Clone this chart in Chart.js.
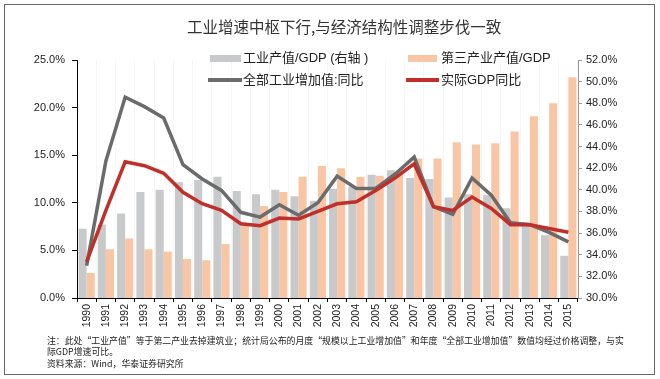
<!DOCTYPE html>
<html>
<head>
<meta charset="utf-8">
<script src="https://cdn.jsdelivr.net/npm/chart.js@4"></script>
<style>
  html, body { margin:0; padding:0; background:#fff; }
  #wrap { position:relative; width:660px; height:379px; overflow:hidden; font-family:"Liberation Sans","Noto Sans CJK SC",sans-serif; color:#222; }
  #c { position:absolute; left:0; top:0; }
  .frame { position:absolute; left:4px; top:4px; width:651px; height:371px; border:1px solid #666; box-sizing:border-box; }
  .t { position:absolute; white-space:nowrap; }
  .sw { position:absolute; }
</style>
</head>
<body>
<div id="wrap">
  <canvas id="c" width="660" height="379"></canvas>
  <div class="frame"></div>
  <div class="t" style="left:187px;top:16px;font-size:15.5px;line-height:20px;color:#333;font-family:'Noto Sans CJK SC',sans-serif;">工业增速中枢下行,与经济结构性调整步伐一致</div>

  <div class="sw" style="left:210px;top:55px;width:31px;height:7px;background:#c8c9cb;"></div>
  <div class="t" style="left:243px;top:49px;font-size:13px;line-height:18px;">工业产值/GDP (右轴 )</div>
  <div class="sw" style="left:408px;top:55px;width:29px;height:7px;background:#f8c6a5;"></div>
  <div class="t" style="left:441px;top:49px;font-size:13px;line-height:18px;">第三产业产值/GDP</div>
  <div class="sw" style="left:208px;top:78px;width:34px;height:4px;background:#6b6b6b;"></div>
  <div class="t" style="left:243px;top:71px;font-size:13px;line-height:18px;">全部工业增加值:同比</div>
  <div class="sw" style="left:406px;top:78px;width:33px;height:4px;background:#c0302b;"></div>
  <div class="t" style="left:441px;top:71px;font-size:13px;line-height:18px;">实际GDP同比</div>

  <div class="t" style="left:47px;top:335px;font-size:8.9px;line-height:12px;font-family:'Noto Sans CJK SC',sans-serif;">注：此处“工业产值”等于第二产业去掉建筑业；统计局公布的月度“规模以上工业增加值”和年度“全部工业增加值”数值均经过价格调整，与实</div>
  <div class="t" style="left:47px;top:346px;font-size:8.9px;line-height:12px;font-family:'Noto Sans CJK SC',sans-serif;">际GDP增速可比。</div>
  <div class="t" style="left:47px;top:358px;font-size:8.9px;line-height:12px;font-family:'Noto Sans CJK SC',sans-serif;">资料来源：Wind，华泰证券研究所</div>
</div>
<script>
const years = ['1990','1991','1992','1993','1994','1995','1996','1997','1998','1999','2000','2001','2002','2003','2004','2005','2006','2007','2008','2009','2010','2011','2012','2013','2014','2015'];
// 工业产值/GDP (right axis, %)
const industryShare = [36.4,36.8,37.8,39.8,40.0,40.7,40.9,41.2,39.9,39.6,40.0,39.4,39.0,40.1,40.3,41.4,41.8,41.1,41.0,39.3,39.6,39.5,38.3,37.0,35.8,33.9];
// 第三产业产值/GDP (right axis, %)
const tertiaryShare = [32.3,34.5,35.5,34.5,34.3,33.6,33.5,35.0,36.8,38.5,39.8,41.2,42.2,42.0,41.2,41.3,41.7,42.9,42.9,44.4,44.2,44.3,45.4,46.8,48.0,50.4];
// 全部工业增加值:同比 (left axis, %)
const industryGrowth = [3.4,14.4,21.1,20.1,18.9,14.0,12.5,11.3,9.0,8.5,9.8,8.7,10.0,12.8,11.5,11.5,13.0,14.8,9.6,8.8,12.6,10.8,7.9,7.7,6.9,5.9];
// 实际GDP同比 (left axis, %)
const gdpGrowth = [3.8,9.2,14.3,13.9,13.1,11.1,9.9,9.2,7.8,7.6,8.4,8.3,9.1,9.9,10.1,11.3,12.6,14.1,9.6,9.2,10.6,9.4,7.7,7.7,7.3,6.9];
const leftTicks = {min:0, max:25, step:5};
const rightTicks = {min:30, max:52, step:2};

const tickFont = {family:'"Liberation Sans", Arial, sans-serif', size:11};

new Chart(document.getElementById('c'), {
  type: 'bar',
  data: {
    labels: years,
    datasets: [
      {type:'line', label:'实际GDP同比', data: gdpGrowth, yAxisID:'y', borderColor:'#c0302b', backgroundColor:'#c0302b', borderWidth:3.5, pointRadius:0, tension:0, order:0},
      {type:'line', label:'全部工业增加值:同比', data: industryGrowth, yAxisID:'y', borderColor:'#6b6b6b', backgroundColor:'#6b6b6b', borderWidth:3.5, pointRadius:0, tension:0, order:1},
      {label:'工业产值/GDP (右轴 )', data: industryShare, yAxisID:'y1', backgroundColor:'#c8c9cb', categoryPercentage:0.84, barPercentage:1.0, order:2},
      {label:'第三产业产值/GDP', data: tertiaryShare, yAxisID:'y1', backgroundColor:'#f8c6a5', categoryPercentage:0.84, barPercentage:1.0, order:3}
    ]
  },
  options: {
    responsive:false,
    animation:false,
    layout:{padding:{left:4, right:32, top:60, bottom:41}},
    plugins:{legend:{display:false}, title:{display:false}, tooltip:{enabled:false}},
    scales:{
      x:{
        position:'bottom',
        offset:true,
        grid:{offset:true, color:'rgba(0,0,0,0.035)', tickColor:'#000', tickLength:4, drawOnChartArea:true},
        border:{color:'#000', width:1},
        ticks:{font:{family:'"Liberation Sans", Arial, sans-serif', size:10.5}, color:'#222', minRotation:90, maxRotation:90, autoSkip:false, padding:2},
        afterFit(s){ s.height = 40; }
      },
      y:{
        position:'left',
        min:leftTicks.min, max:leftTicks.max,
        grid:{drawOnChartArea:false, tickColor:'#000', tickLength:5},
        border:{color:'#000', width:1},
        ticks:{stepSize:leftTicks.step, font:tickFont, color:'#222', padding:7, callback:v=>v.toFixed(1)+'%'},
        afterFit(s){ s.width = 73; }
      },
      y1:{
        position:'right',
        min:rightTicks.min, max:rightTicks.max,
        grid:{drawOnChartArea:false, tickColor:'#999', tickLength:4},
        border:{color:'#999', width:1},
        ticks:{stepSize:rightTicks.step, font:tickFont, color:'#222', padding:4, callback:v=>v.toFixed(1)+'%'},
        afterFit(s){ s.width = 50; }
      }
    }
  }
});
</script>
</body>
</html>
